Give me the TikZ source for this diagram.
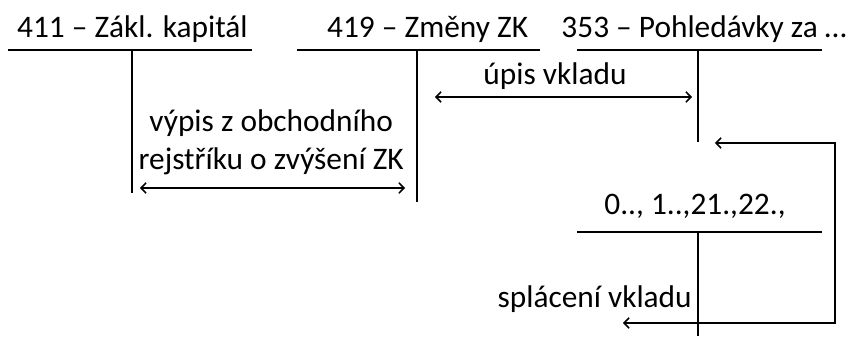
\documentclass[tikz,border=0pt]{standalone}
\usepackage{fontspec}
\setmainfont{Carlito}
\usetikzlibrary{arrows.meta}

\begin{document}
\begin{tikzpicture}[every node/.style={font=\fontsize{22.3}{27.6}\selectfont, inner sep=0pt},
ucet/.style={line width=1.1pt},
sipka/.style={line width=1.1pt, >={Straight Barb[length=3.6pt, width=7.5pt]}}]
\useasboundingbox (0,0) rectangle (21.275,8.4);

% ucty
\node[anchor=base] (n411) at (3.31,7.45) {411 – Zákl. kapitál};
\coordinate (u411l) at (0.2,7.15);
\coordinate (u411r) at (6.3,7.15);
\coordinate (u411t) at (3.3,7.15);
\coordinate (u411b) at (3.3,3.575);
\draw[ucet] (u411l) -- (u411r);
\draw[ucet] (u411t) -- (u411b);

\node[anchor=base] (n419) at (10.69,7.45) {419 – Změny ZK};
\coordinate (u419l) at (7.425,7.15);
\coordinate (u419r) at (13.5,7.15);
\coordinate (u419t) at (10.425,7.15);
\coordinate (u419b) at (10.425,3.35);
\draw[ucet] (u419l) -- (u419r);
\draw[ucet] (u419t) -- (u419b);

\node[anchor=base] (n353) at (17.6,7.45) {353 – Pohledávky za …};
\coordinate (u353l) at (14.425,7.15);
\coordinate (u353r) at (20.55,7.15);
\coordinate (u353t) at (17.45,7.15);
\coordinate (u353b) at (17.45,4.85);
\draw[ucet] (u353l) -- (u353r);
\draw[ucet] (u353t) -- (u353b);

\node[anchor=base] (nfin) at (17.375,3.025) {0.., 1..,21.,22.,};
\coordinate (ufinl) at (14.425,2.6);
\coordinate (ufinr) at (20.55,2.6);
\coordinate (ufint) at (17.45,2.6);
\coordinate (ufinb) at (17.45,0);
\draw[ucet] (ufinl) -- (ufinr);
\draw[ucet] (ufint) -- (ufinb);

% operace
\node[anchor=base, align=center] (vypis) at (6.78,4.15) {výpis z obchodního\\rejstříku o zvýšení ZK};
\coordinate (vypisl) at (3.5,3.7);
\coordinate (vypisr) at (10.125,3.7);
\draw[sipka, <->] (vypisl) -- (vypisr);

\node[anchor=base] (upis) at (13.875,6.275) {úpis vkladu};
\coordinate (upisl) at (10.875,5.975);
\coordinate (upisr) at (17.3,5.975);
\draw[sipka, <->] (upisl) -- (upisr);

\node[anchor=base east] (splaceni) at (17.3,0.7) {splácení vkladu};
\coordinate (splh) at (17.875,4.825);
\coordinate (splroh) at (20.875,0.325);
\coordinate (spld) at (15.575,0.325);
\draw[sipka, <->] (splh) -| (splroh) -- (spld);
\end{tikzpicture}
\end{document}
